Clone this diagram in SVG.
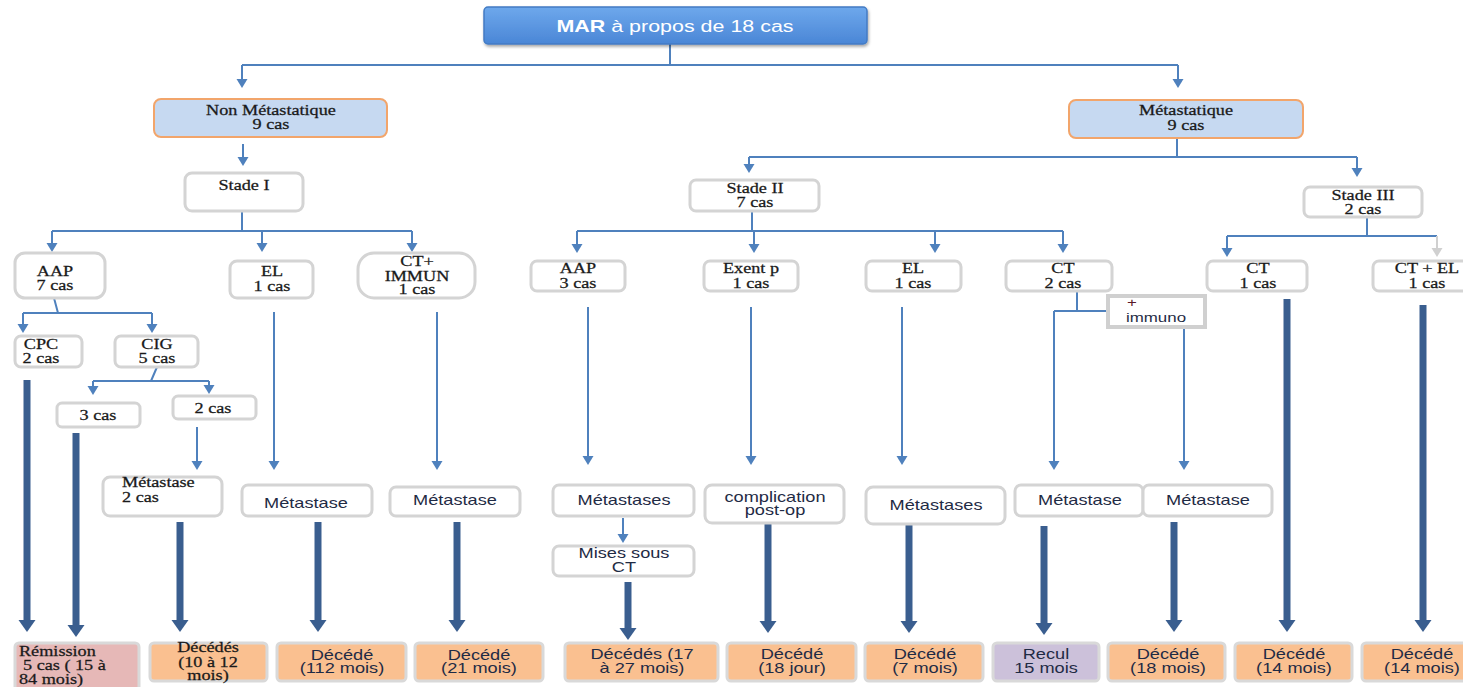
<svg xmlns="http://www.w3.org/2000/svg" width="1463" height="687" viewBox="0 0 1463 687">
<defs>
<style>
text{transform-box:fill-box;transform-origin:center;transform:scaleX(1.3)}
text.l{transform-origin:left}
.s{font-family:"Liberation Serif","Times New Roman",serif;font-size:14px;fill:#1a1a1a;text-anchor:middle;stroke:#1a1a1a;stroke-width:0.25}
.a{font-family:"Liberation Sans",Arial,sans-serif;font-size:14px;fill:#1f2b45;text-anchor:middle}
.l{text-anchor:start}
.box{fill:#fff;stroke:#d4d4d4;stroke-width:3}
.cat{fill:#c6d9f1;stroke:#f2a56b;stroke-width:2}
.dead{fill:#fac090;stroke:#d9d9d9;stroke-width:3}
.th{fill:none;stroke:#4f81bd;stroke-width:2}
.ta{fill:none;stroke:#4f81bd;stroke-width:2;marker-end:url(#ah)}
.tg{fill:none;stroke:#d0d0d0;stroke-width:2;marker-end:url(#ag)}
.tk{fill:none;stroke:#3a5e8f;stroke-width:7;marker-end:url(#ak)}
</style>
<marker id="ah" markerUnits="userSpaceOnUse" markerWidth="10" markerHeight="12" refX="0" refY="5.5" orient="auto" overflow="visible"><path d="M0,0 L9,5.5 L0,11 z" fill="#4f81bd"/></marker>
<marker id="ag" markerUnits="userSpaceOnUse" markerWidth="10" markerHeight="12" refX="0" refY="5.5" orient="auto" overflow="visible"><path d="M0,0 L9,5.5 L0,11 z" fill="#d0d0d0"/></marker>
<marker id="ak" markerUnits="userSpaceOnUse" markerWidth="13" markerHeight="18" refX="0" refY="8.5" orient="auto" overflow="visible"><path d="M0,0 L12,8.5 L0,17 z" fill="#3a5e8f"/></marker>
<linearGradient id="gtop" x1="0" y1="0" x2="0" y2="1"><stop offset="0" stop-color="#6ea8ec"/><stop offset="1" stop-color="#4a86d6"/></linearGradient>
<filter id="sh" x="-10%" y="-30%" width="120%" height="180%"><feDropShadow dx="1" dy="2" stdDeviation="1.5" flood-color="#000" flood-opacity="0.35"/></filter>
</defs>
<rect width="1463" height="687" fill="#fff"/>

<g id="connectors">
<path class="th" d="M670,44 V65 M242,65 H1178"/>
<path class="ta" d="M242,65 V79"/>
<path class="ta" d="M1178,65 V79"/>
<path class="ta" d="M243,144 V157"/>
<path class="th" d="M242,211 V231 M52,231 H412"/>
<path class="ta" d="M52,231 V243"/>
<path class="ta" d="M262,231 V243"/>
<path class="ta" d="M412,231 V243"/>
<path class="th" d="M54,298 L58,313 M23,313 H152"/>
<path class="ta" d="M23,313 V324"/>
<path class="ta" d="M152,313 V324"/>
<path class="th" d="M157,367 L151,381 M93,381 H209"/>
<path class="ta" d="M93,381 V386"/>
<path class="ta" d="M209,381 V385"/>
<path class="ta" d="M197,427 V461"/>
<path class="ta" d="M274,312 V461"/>
<path class="ta" d="M437,312 V461"/>
<path class="th" d="M1177,138 V157 M749,157 H1357"/>
<path class="ta" d="M749,157 V164"/>
<path class="ta" d="M1357,157 V168"/>
<path class="th" d="M752,211 V231 M577,231 H1063"/>
<path class="ta" d="M577,231 V244"/>
<path class="ta" d="M754,231 V244"/>
<path class="ta" d="M935,231 V244"/>
<path class="ta" d="M1063,231 V244"/>
<path class="ta" d="M588,307 V456"/>
<path class="ta" d="M751,307 V456"/>
<path class="ta" d="M902,307 V456"/>
<path class="ta" d="M623,518 V534"/>
<path class="th" d="M1077,291 V311 M1054,311 H1108"/>
<path class="ta" d="M1054,311 V461"/>
<path class="ta" d="M1184,327 V461"/>
<path class="th" d="M1367,217 V236 M1227,236 H1437"/>
<path class="ta" d="M1227,236 V248"/>
<path class="tg" d="M1437,236 V248"/>
<path class="tk" d="M27,380 V620"/>
<path class="tk" d="M76,433 V625"/>
<path class="tk" d="M180,522 V620"/>
<path class="tk" d="M318,522 V620"/>
<path class="tk" d="M457,522 V620"/>
<path class="tk" d="M628,582 V628"/>
<path class="tk" d="M768,523 V621"/>
<path class="tk" d="M909,524 V621"/>
<path class="tk" d="M1044,526 V623"/>
<path class="tk" d="M1174,522 V620"/>
<path class="tk" d="M1287,299 V620"/>
<path class="tk" d="M1423,305 V620"/>
</g>

<g id="root"><rect x="484" y="7" width="383" height="37" rx="4" fill="url(#gtop)" stroke="#437bc4" stroke-width="1.5" filter="url(#sh)"/>
<text x="675" y="32" style="font-family:'Liberation Sans',Arial,sans-serif;font-size:16.5px;fill:#fff;text-anchor:middle"><tspan font-weight="bold">MAR</tspan> à propos de 18 cas</text></g>

<g id="nonmeta"><rect class="cat" x="154" y="99" width="233" height="38" rx="7"/><text class="s" x="271" y="115">Non Métastatique</text><text class="s" x="271" y="129">9 cas</text></g>
<g id="meta"><rect class="cat" x="1069" y="100" width="234" height="38" rx="7"/><text class="s" x="1186" y="115">Métastatique</text><text class="s" x="1186" y="130">9 cas</text></g>

<g id="stade1"><rect class="box" x="185" y="173" width="118" height="38" rx="7"/><text class="s" x="244" y="190">Stade I</text></g>
<g id="stade2"><rect class="box" x="690" y="180" width="129" height="31" rx="6"/><text class="s" x="755" y="193">Stade II</text><text class="s" x="755" y="207">7 cas</text></g>
<g id="stade3"><rect class="box" x="1304" y="187" width="118" height="30" rx="6"/><text class="s" x="1363" y="200">Stade III</text><text class="s" x="1363" y="214">2 cas</text></g>

<g id="aap7"><rect class="box" x="15" y="253" width="90" height="45" rx="10"/><text class="s" x="55" y="276">AAP</text><text class="s" x="55" y="290">7 cas</text></g>
<g id="el1"><rect class="box" x="230" y="261" width="83" height="37" rx="7"/><text class="s" x="272" y="276">EL</text><text class="s" x="272" y="291">1 cas</text></g>
<g id="ctimmun"><rect class="box" x="358" y="253" width="117" height="45" rx="16"/><text class="s" x="417" y="266">CT+</text><text class="s" x="417" y="281">IMMUN</text><text class="s" x="417" y="294">1 cas</text></g>
<g id="cpc"><rect class="box" x="15" y="336" width="67" height="31" rx="6"/><text class="s" x="41" y="349">CPC</text><text class="s" x="41" y="363">2 cas</text></g>
<g id="cig"><rect class="box" x="115" y="336" width="83" height="31" rx="6"/><text class="s" x="157" y="349">CIG</text><text class="s" x="157" y="363">5 cas</text></g>
<g id="cas3"><rect class="box" x="57" y="403" width="83" height="24" rx="5"/><text class="s" x="98" y="420">3 cas</text></g>
<g id="cas2"><rect class="box" x="173" y="396" width="83" height="23" rx="5"/><text class="s" x="213" y="413">2 cas</text></g>
<g id="meta2cas"><rect class="box" x="103" y="477" width="119" height="39" rx="7"/><text class="s l" x="122" y="487">Métastase</text><text class="s l" x="122" y="502">2 cas</text></g>
<g id="metaEL1"><rect class="box" x="242" y="485" width="130" height="31" rx="6"/><text class="a" x="306" y="508">Métastase</text></g>
<g id="metaCTI"><rect class="box" x="390" y="487" width="130" height="29" rx="6"/><text class="a" x="455" y="505">Métastase</text></g>

<g id="aap3"><rect class="box" x="531" y="261" width="94" height="30" rx="6"/><text class="s" x="578" y="273">AAP</text><text class="s" x="578" y="288">3 cas</text></g>
<g id="exent"><rect class="box" x="704" y="261" width="94" height="30" rx="6"/><text class="s" x="751" y="273">Exent p</text><text class="s" x="751" y="288">1 cas</text></g>
<g id="el2"><rect class="box" x="866" y="261" width="95" height="30" rx="6"/><text class="s" x="913" y="273">EL</text><text class="s" x="913" y="288">1 cas</text></g>
<g id="ct2"><rect class="box" x="1006" y="261" width="106" height="30" rx="6"/><text class="s" x="1063" y="273">CT</text><text class="s" x="1063" y="288">2 cas</text></g>
<g id="ct1"><rect class="box" x="1207" y="261" width="100" height="30" rx="6"/><text class="s" x="1258" y="273">CT</text><text class="s" x="1258" y="288">1 cas</text></g>
<g id="ctel"><rect class="box" x="1373" y="261" width="100" height="30" rx="6"/><text class="s" x="1427" y="273">CT + EL</text><text class="s" x="1427" y="288">1 cas</text></g>
<g id="immuno"><rect x="1108" y="296" width="97" height="31" fill="#fff" stroke="#d0d0d0" stroke-width="4"/><text class="a" x="1132" y="307" style="font-size:13px;fill:#5a1a2a">+</text><text class="a l" x="1126" y="322" style="font-size:13px">immuno</text></g>

<g id="metas1"><rect class="box" x="553" y="485" width="141" height="31" rx="6"/><text class="a" x="624" y="505">Métastases</text></g>
<g id="mises"><rect class="box" x="553" y="546" width="141" height="30" rx="6"/><text class="a" x="624" y="558">Mises sous</text><text class="a" x="624" y="572">CT</text></g>
<g id="complic"><rect class="box" x="705" y="485" width="139" height="38" rx="7"/><text class="a" x="775" y="502">complication</text><text class="a" x="775" y="515">post-op</text></g>
<g id="metas2"><rect class="box" x="866" y="487" width="139" height="37" rx="7"/><text class="a" x="936" y="510">Métastases</text></g>
<g id="metaCT"><rect class="box" x="1015" y="485" width="128" height="31" rx="6"/><text class="a" x="1080" y="505">Métastase</text></g>
<g id="metaImm"><rect class="box" x="1143" y="485" width="129" height="31" rx="6"/><text class="a" x="1208" y="505">Métastase</text></g>

<g id="remission"><rect x="15" y="643" width="124" height="52" rx="4" fill="#e6b8b7" stroke="#d9d9d9" stroke-width="3"/><text class="s l" x="19" y="656">Rémission</text><text class="s l" x="23" y="670">5 cas ( 15 à</text><text class="s l" x="19" y="684">84 mois)</text></g>
<g id="dec1012"><rect class="dead" x="150" y="643" width="117" height="38" rx="4"/><text class="s" x="208" y="652">Décédés</text><text class="s" x="208" y="667">(10 à 12</text><text class="s" x="208" y="680">mois)</text></g>
<g id="dec112"><rect class="dead" x="277" y="643" width="129" height="38" rx="4"/><text class="a" x="342" y="660">Décédé</text><text class="a" x="342" y="673">(112 mois)</text></g>
<g id="dec21"><rect class="dead" x="415" y="643" width="128" height="38" rx="4"/><text class="a" x="479" y="660">Décédé</text><text class="a" x="479" y="673">(21 mois)</text></g>
<g id="dec1727"><rect class="dead" x="565" y="643" width="153" height="38" rx="4"/><text class="a" x="642" y="659">Décédés (17</text><text class="a" x="642" y="673">à 27 mois)</text></g>
<g id="dec18j"><rect class="dead" x="727" y="643" width="129" height="38" rx="4"/><text class="a" x="792" y="659">Décédé</text><text class="a" x="792" y="673">(18 jour)</text></g>
<g id="dec7"><rect class="dead" x="865" y="643" width="118" height="38" rx="4"/><text class="a" x="925" y="659">Décédé</text><text class="a" x="925" y="673">(7 mois)</text></g>
<g id="recul"><rect x="993" y="643" width="106" height="38" rx="4" fill="#ccc1da" stroke="#d9d9d9" stroke-width="3"/><text class="a" x="1046" y="659">Recul</text><text class="a" x="1046" y="673">15 mois</text></g>
<g id="dec18m"><rect class="dead" x="1108" y="643" width="117" height="38" rx="4"/><text class="a" x="1168" y="659">Décédé</text><text class="a" x="1168" y="673">(18 mois)</text></g>
<g id="dec14a"><rect class="dead" x="1235" y="643" width="117" height="38" rx="4"/><text class="a" x="1294" y="659">Décédé</text><text class="a" x="1294" y="673">(14 mois)</text></g>
<g id="dec14b"><rect class="dead" x="1362" y="643" width="110" height="38" rx="4"/><text class="a" x="1422" y="659">Décédé</text><text class="a" x="1422" y="673">(14 mois)</text></g>
</svg>
